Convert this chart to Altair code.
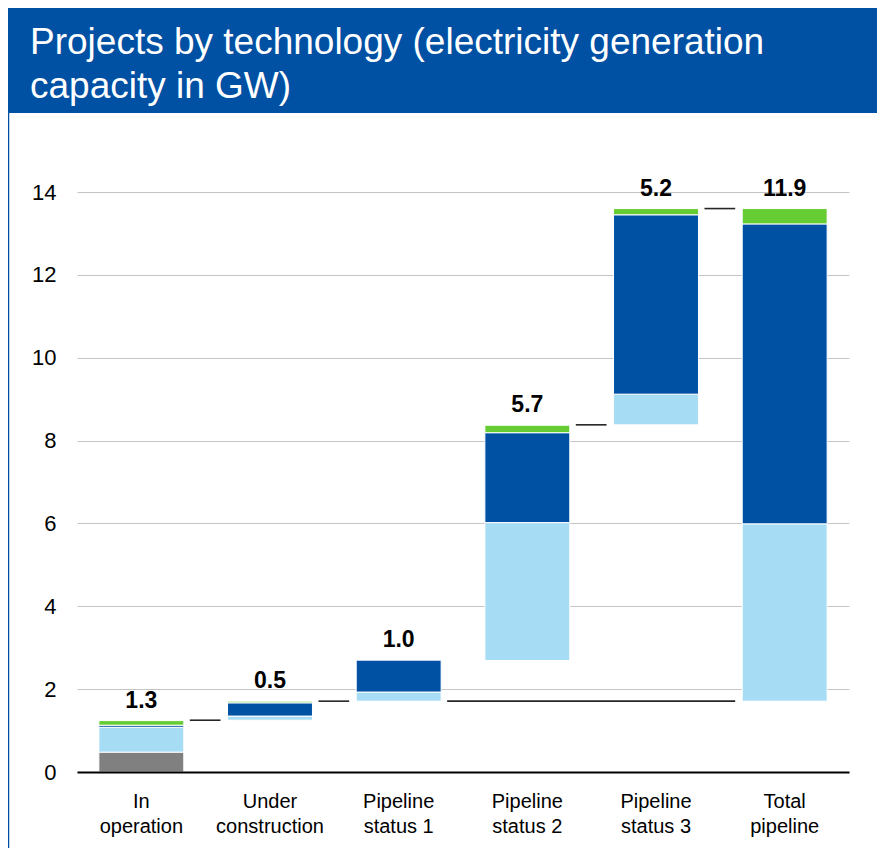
import altair as alt
import pandas as pd

FONT = "Liberation Sans"

# ---------------- data ----------------
categories = ["In operation", "Under construction", "Pipeline status 1",
              "Pipeline status 2", "Pipeline status 3", "Total pipeline"]
start = [0.0, 1.25, 1.71, 2.69, 8.38, 1.71]
in_operation = [0.48, 0.0, 0.0, 0.0, 0.0, 0.0]
light = [0.60, 0.10, 0.22, 3.33, 0.74, 4.28]
dark = [0.05, 0.32, 0.77, 2.17, 4.33, 7.24]
green = [0.11, 0.04, 0.00, 0.18, 0.15, 0.37]
total_labels = ["1.3", "0.5", "1.0", "5.7", "5.2", "11.9"]

conn_from = ["In operation", "Under construction", "Pipeline status 1",
             "Pipeline status 2", "Pipeline status 3"]
conn_to = ["Under construction", "Pipeline status 1", "Total pipeline",
           "Pipeline status 3", "Total pipeline"]
conn_level = [1.25, 1.71, 1.71, 8.38, 13.60]

series = ["Series A", "Series B", "Series C", "Series D"]
series_colors = ["#808080", "#a6dcf4", "#0050a4", "#66cc33"]

title_lines = ["Projects by technology (electricity generation", "capacity in GW)"]
y_ticks = [0, 2, 4, 6, 8, 10, 12, 14]

# ---------------- tables ----------------
rows = []
for i, cat in enumerate(categories):
    base = start[i]
    for s, arr in zip(series, [in_operation, light, dark, green]):
        v = arr[i]
        if v > 0:
            rows.append({"cat": cat, "series": s, "y0": base, "y1": base + v})
            base += v
seg_df = pd.DataFrame(rows)

lab_df = pd.DataFrame({
    "cat": categories,
    "top": [start[i] + in_operation[i] + light[i] + dark[i] + green[i]
            for i in range(len(categories))],
    "label": total_labels,
})

conn_df = pd.DataFrame({"from": conn_from, "to": conn_to, "level": conn_level})
one = pd.DataFrame({"k": [0]})

xscale = alt.Scale(domain=categories, paddingInner=0.34, paddingOuter=0.17)
yscale = alt.Scale(domain=[0, 14], nice=False)

label_expr = ("indexof(datum.value, ' ') > 0 ? "
              "[substring(datum.value, 0, indexof(datum.value, ' ')), "
              "substring(datum.value, indexof(datum.value, ' ') + 1)] : datum.value")

x_axis = alt.Axis(title=None, labelAngle=0, domain=True, domainColor="black",
                  domainWidth=2, ticks=False, tickSize=0, labelFontSize=20,
                  labelFont=FONT, labelColor="black", labelPadding=19,
                  labelLineHeight=25, labelExpr=label_expr, zindex=1,
                  labelLimit=300, grid=False)
y_axis = alt.Axis(title=None, values=y_ticks, grid=True, gridColor="#c4c4c4",
                  gridWidth=1.2, domain=False, ticks=False, tickSize=0,
                  labelFontSize=22, labelFont=FONT, labelColor="black",
                  labelPadding=21)

bars = alt.Chart(seg_df).mark_bar(stroke="white", strokeWidth=1).encode(
    x=alt.X("cat:N", sort=categories, scale=xscale, axis=x_axis),
    y=alt.Y("y0:Q", scale=yscale, axis=y_axis),
    y2="y1:Q",
    color=alt.Color("series:N", scale=alt.Scale(domain=series, range=series_colors),
                    legend=None),
)

connectors = alt.Chart(conn_df).mark_rule(color="#262626", strokeWidth=1.6,
                                          xOffset=6, x2Offset=-7).encode(
    x=alt.X("from:N", sort=categories, scale=xscale, bandPosition=1, axis=x_axis),
    x2=alt.X2("to:N", bandPosition=0),
    y=alt.Y("level:Q", scale=yscale, axis=y_axis),
)

labels = alt.Chart(lab_df).mark_text(fontSize=23, fontWeight="bold", font=FONT,
                                     baseline="alphabetic", dy=-13,
                                     color="black").encode(
    x=alt.X("cat:N", sort=categories, scale=xscale, axis=x_axis),
    y=alt.Y("top:Q", scale=yscale, axis=y_axis),
    text="label:N",
)

header = alt.Chart(one).mark_rect(color="#0050a4").encode(
    x=alt.value(-69), x2=alt.value(800), y=alt.value(-184), y2=alt.value(-79)
)
border = alt.Chart(one).mark_rule(color="#0050a4", strokeWidth=1.5).encode(
    x=alt.value(-68.5), y=alt.value(-79), y2=alt.value(660)
)
title = alt.Chart(one).mark_text(align="left", baseline="alphabetic", fontSize=37,
                                 color="white", font=FONT, lineHeight=44).encode(
    x=alt.value(-47), y=alt.value(-138), text=alt.value(title_lines)
)

chart = alt.layer(bars, connectors, labels, header, border, title).properties(
    width=772, height=580,
    padding={"left": 69, "top": 184, "right": 28, "bottom": 76},
    autosize="none",
).configure_view(stroke=None)

chart.save("out.html", embed_options={"renderer": "svg", "actions": False})
